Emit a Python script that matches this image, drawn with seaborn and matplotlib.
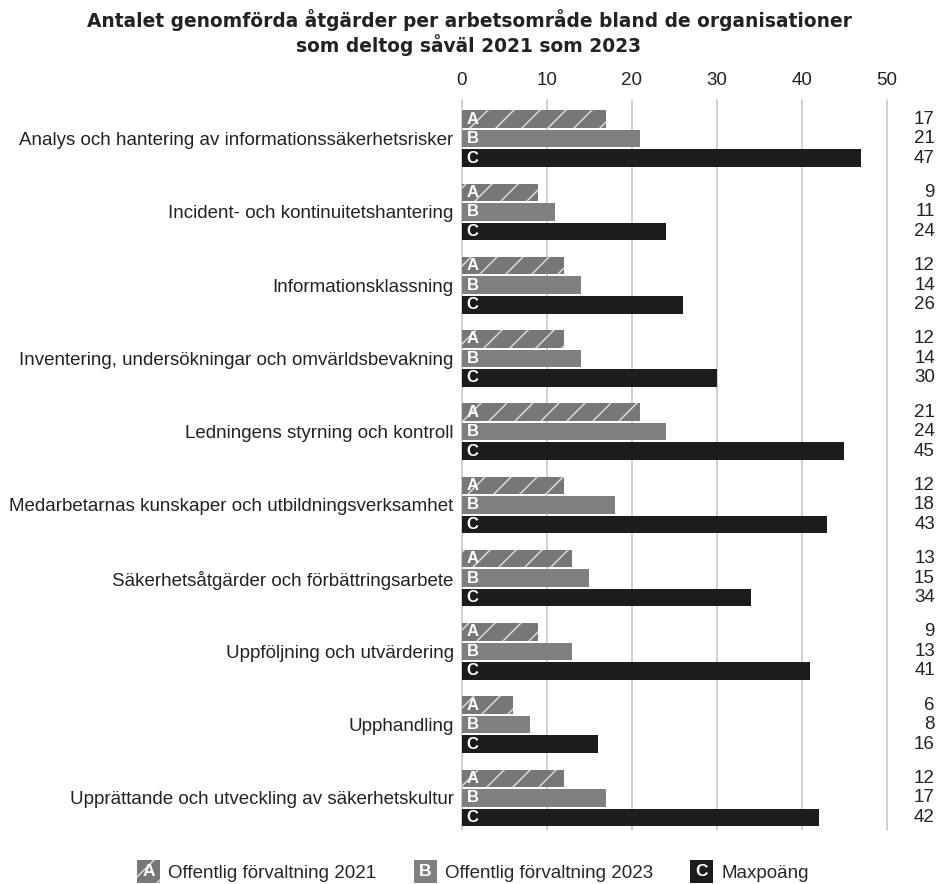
import matplotlib
matplotlib.use("Agg")
import matplotlib.pyplot as plt
import matplotlib.patches as mpatches
from matplotlib.legend_handler import HandlerBase
import pandas as pd
import seaborn as sns

categories = [
    "Analys och hantering av informationssäkerhetsrisker",
    "Incident- och kontinuitetshantering",
    "Informationsklassning",
    "Inventering, undersökningar och omvärldsbevakning",
    "Ledningens styrning och kontroll",
    "Medarbetarnas kunskaper och utbildningsverksamhet",
    "Säkerhetsåtgärder och förbättringsarbete",
    "Uppföljning och utvärdering",
    "Upphandling",
    "Upprättande och utveckling av säkerhetskultur",
]
offentlig_2021 = [17, 9, 12, 12, 21, 12, 13, 9, 6, 12]
offentlig_2023 = [21, 11, 14, 14, 24, 18, 15, 13, 8, 17]
maxpoang = [47, 24, 26, 30, 45, 43, 34, 41, 16, 42]
series_names = ["Offentlig förvaltning 2021", "Offentlig förvaltning 2023", "Maxpoäng"]
series_letters = ["A", "B", "C"]
x_ticks = [0, 10, 20, 30, 40, 50]

colors = ["#777777", "#7f7f7f", "#1c1c1c"]

# Rendering resolution; the hatch spacing is one inch / 6, so a lower dpi
# gives a tighter hatch. Font sizes are scaled to keep their pixel size.
DPI = 78
W_PX, H_PX = 938, 884
S = 100 / DPI


def pt(size):
    return size * S


rows = []
for i, cat in enumerate(categories):
    for name, vals in zip(series_names, [offentlig_2021, offentlig_2023, maxpoang]):
        rows.append({"Arbetsområde": cat, "Serie": name, "Antal": vals[i]})
df = pd.DataFrame(rows)

sns.set_theme(style="white")
plt.rcParams["font.family"] = ["Liberation Sans", "DejaVu Sans"]
plt.rcParams["hatch.linewidth"] = 1.1 * S

fig = plt.figure(figsize=(W_PX / DPI, H_PX / DPI), dpi=DPI)
ax = fig.add_axes([0.4925, 0.061, 0.4531, 0.826])

sns.barplot(data=df, y="Arbetsområde", x="Antal", hue="Serie", orient="h",
            palette=colors, width=0.8, saturation=1, legend=False, ax=ax, zorder=3)

# tighten bars a little so that thin gaps appear between them
for container, name in zip(ax.containers, series_names):
    for bar in container:
        h = bar.get_height()
        y = bar.get_y()
        bar.set_y(y + h * 0.05)
        bar.set_height(h * 0.9)
        bar.set_linewidth(0)
        if name == series_names[0]:
            bar.set_hatch("/")
            bar.set_edgecolor("#d8d8d8")

# letters inside each bar and values on the right
for container, letter, vals in zip(ax.containers, series_letters,
                                   [offentlig_2021, offentlig_2023, maxpoang]):
    for bar, v in zip(container, vals):
        yc = bar.get_y() + bar.get_height() / 2
        ax.text(0.55, yc, letter, color="white", fontsize=pt(12), fontweight="bold",
                va="center", ha="left", zorder=5)
        ax.text(1.113, yc, str(v), transform=ax.get_yaxis_transform(),
                ha="right", va="center", fontsize=pt(13.5), color="#222222")

ax.set_xlim(0, 50)
ax.set_ylim(len(categories) - 0.56, -0.53)
ax.set_xticks(x_ticks)
ax.xaxis.tick_top()
ax.tick_params(axis="x", length=0, pad=pt(8), labelsize=pt(13.5), colors="#222222")
ax.tick_params(axis="y", length=0, pad=pt(6), labelsize=pt(13.5), colors="#222222")
ax.set_xlabel("")
ax.set_ylabel("")
ax.grid(axis="x", color="#c4c4c4", linewidth=1.1 * S, zorder=0)
for gl in ax.get_xgridlines():
    gl.set_clip_on(False)
for s in ax.spines.values():
    s.set_visible(False)

fig.suptitle("Antalet genomförda åtgärder per arbetsområde bland de organisationer\nsom deltog såväl 2021 som 2023",
             x=0.5, y=0.99, fontsize=pt(13.4), fontweight="bold", family="DejaVu Sans",
             color="#222222", linespacing=1.15)


class LetterHandler(HandlerBase):
    def __init__(self, letter, color, hatch=None):
        super().__init__()
        self.letter = letter
        self.color = color
        self.hatch = hatch

    def create_artists(self, legend, orig_handle, xdescent, ydescent, width,
                       height, fontsize, trans):
        side = height * 1.75
        x0 = width - side
        y0 = (height - side) / 2
        rect = mpatches.Rectangle((x0 - xdescent, y0 - ydescent), side, side,
                                  facecolor=self.color,
                                  edgecolor="#d8d8d8" if self.hatch else self.color,
                                  linewidth=0, hatch=self.hatch, transform=trans)
        txt = plt.Text(x0 - xdescent + side / 2, height / 2 - ydescent, self.letter,
                       color="white", fontsize=pt(12.5), fontweight="bold",
                       ha="center", va="center", transform=trans)
        return [rect, txt]


handles = [mpatches.Patch(color=c) for c in colors]
handler_map = {
    handles[0]: LetterHandler("A", colors[0], hatch="/"),
    handles[1]: LetterHandler("B", colors[1]),
    handles[2]: LetterHandler("C", colors[2]),
}
fig.legend(handles, series_names, handler_map=handler_map, loc="center",
           bbox_to_anchor=(0.502, 0.0115), ncol=3, frameon=False, fontsize=pt(13.5),
           handlelength=1.45, handletextpad=0.45, columnspacing=1.75)

fig.savefig("out.png", dpi=DPI)
